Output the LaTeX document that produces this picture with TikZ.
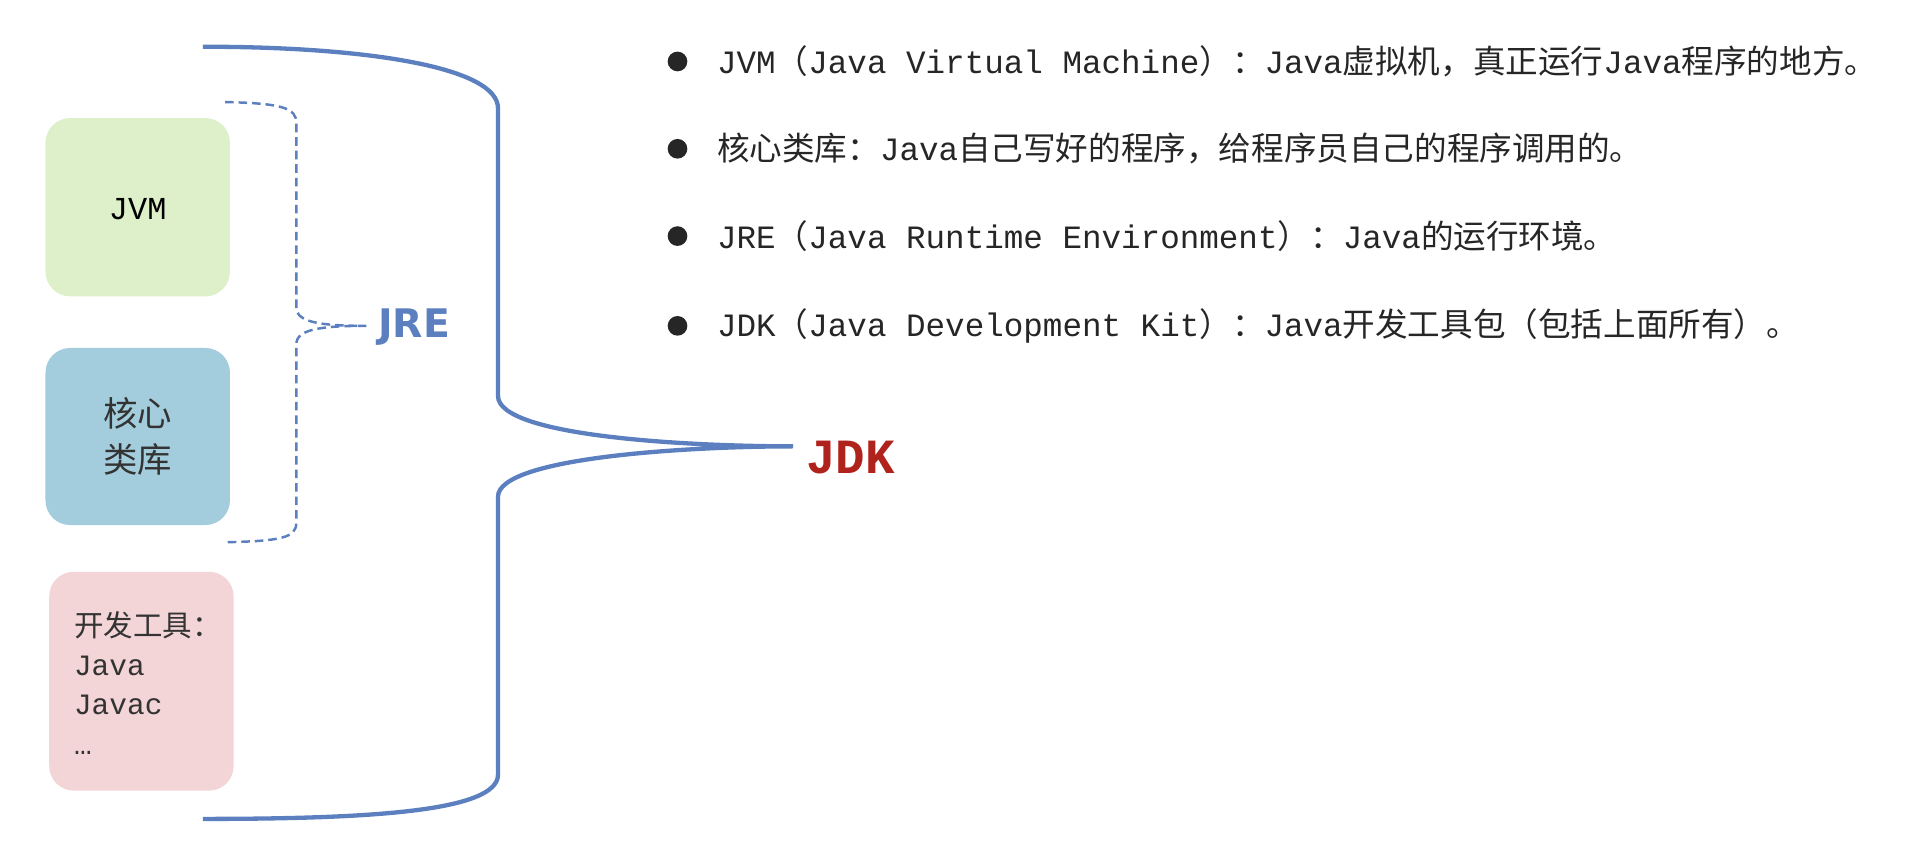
\documentclass[tikz,border=0pt]{standalone}
\usepackage{fontspec}
\setmainfont{Liberation Mono}
\newfontfamily\cjk{Noto Sans CJK SC}
\newfontfamily\sansb{DejaVu Sans}
\newcommand{\C}[1]{{\cjk #1}}
\definecolor{bl}{HTML}{5B7FBF}
\definecolor{gr}{HTML}{DDF0CA}
\definecolor{cy}{HTML}{A3CDDC}
\definecolor{pk}{HTML}{F3D5D8}
\definecolor{jr}{HTML}{B0221C}
\begin{document}
\begin{tikzpicture}[x=1pt,y=-1pt,
  btxt/.style={anchor=west,font=\fontsize{26.5}{30}\selectfont,text=black!85,inner sep=0pt},
  bdot/.style={circle,fill=black!85,minimum size=16pt,inner sep=0pt}]
\useasboundingbox (0,0) rectangle (1568,698);
% boxes
\fill[gr,rounded corners=20pt] (37,96) rectangle (187,241);
\node (jvm) at (112,170) {\fontsize{26}{30}\selectfont JVM};
\fill[cy,rounded corners=20pt] (37,283) rectangle (187,427);
\node[align=center,font=\fontsize{28}{38}\selectfont\cjk,text=black!80] (lib) at (112,355) {核心\\类库};
\fill[pk,rounded corners=20pt] (40,465) rectangle (190,643);
\node[anchor=north west,align=left,font=\fontsize{24}{32}\selectfont,inner sep=0pt,text=black!80] (tools) at (60,497) {\C{开发工具：}\\Java\\Javac\\…};
% JRE dashed bracket
\coordinate (r1) at (183,83); \coordinate (r2) at (183,441); \coordinate (rt) at (298,265);
\draw[bl,line width=2pt,dash pattern=on 7pt off 4pt]
  (r1) .. controls (230,84) and (241,88) .. (241,100) -- (241,250) .. controls (241,262) and (260,265) .. (rt)
  (rt) .. controls (260,265) and (241,268) .. (241,280) -- (241,425) .. controls (241,437) and (230,440) .. (r2);
\node[anchor=west,text=bl,font=\fontsize{32}{36}\selectfont\sansb\bfseries] (jre) at (304,266) {JRE};
% JDK brace
\coordinate (d1) at (165,38); \coordinate (d2) at (165,666); \coordinate (dt) at (645,363);
\draw[bl,line width=3.5pt]
  (d1) .. controls (300,38) and (405,55) .. (405,88) -- (405,322) .. controls (405,355) and (560,363) .. (dt)
  (dt) .. controls (560,363) and (405,372) .. (405,404) -- (405,630) .. controls (405,660) and (300,666) .. (d2);
\node[anchor=west,text=jr,font=\fontsize{40}{44}\selectfont\bfseries] (jdk) at (652,372) {JDK};
% bullets
\foreach \y/\n in {50/a,121/b,192/c,265/d}{\node[bdot] (dot\n) at (551,\y) {};}
\node[btxt] (ta) at (583,50) {JVM\C{（}Java Virtual Machine\C{）：}Java\C{虚拟机，真正运行}Java\C{程序的地方。}};
\node[btxt] (tb) at (583,121) {\C{核心类库：}Java\C{自己写好的程序，给程序员自己的程序调用的。}};
\node[btxt] (tc) at (583,192) {JRE\C{（}Java Runtime Environment\C{）：}Java\C{的运行环境。}};
\node[btxt] (td) at (583,265) {JDK\C{（}Java Development Kit\C{）：}Java\C{开发工具包（包括上面所有）。}};
\end{tikzpicture}
\end{document}
